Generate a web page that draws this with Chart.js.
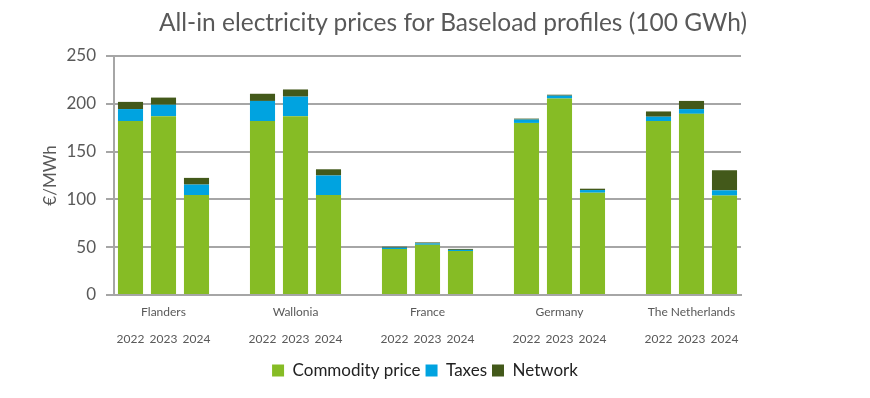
<!DOCTYPE html>
<html>
<head>
<meta charset="utf-8">
<script src="https://cdn.jsdelivr.net/npm/chart.js@4.4.1/dist/chart.umd.min.js"></script>
<style>
  html, body { margin: 0; padding: 0; background: #ffffff; }
  #wrap { width: 870px; height: 398px; position: relative; }
  #title {
    position: absolute; left: 0; top: 7px; width: 906px;
    text-align: center; font-family: Lato, sans-serif; font-size: 24.5px;
    color: #595959; white-space: nowrap; pointer-events: none;
  }
</style>
</head>
<body>
<div id="wrap">
  <div id="title">All-in electricity prices for Baseload profiles (100 GWh)</div>
  <canvas id="priceChart"></canvas>
</div>
<script>
// données (€/MWh)
const countries = ['Flanders', 'Wallonia', 'France', 'Germany', 'The Netherlands'];
const years = ['2022', '2023', '2024'];
const commodity = [182, 187, 104.5, 182, 187, 104.5, 48, 52.5, 46, 180, 205.5, 107, 182, 189.5, 104];
const taxes = [12.5, 12, 11, 21, 20.5, 20.5, 1.5, 1.5, 1.2, 3.5, 3, 2.8, 4.5, 5, 5.5];
const network = [7.5, 7.5, 7, 7.5, 7.5, 6.5, 1, 1, 1, 1, 1, 1.4, 5.5, 8.5, 21];
const yTicks = [0, 50, 100, 150, 200, 250];

const GREEN = '#86bc25';
const BLUE = '#00a3e0';
const DARK = '#43591a';
const TEXT = '#595959';

// une case vide entre chaque pays
const labels = [];
const slotIndex = [];
countries.forEach((c, gi) => {
  years.forEach((y, yi) => {
    labels.push([yi === 1 ? c : '', y]);
    slotIndex.push(gi * 3 + yi);
  });
  if (gi < countries.length - 1) {
    labels.push('');
    slotIndex.push(null);
  }
});
const spread = arr => slotIndex.map(i => i === null ? null : arr[i]);

const PAD_RIGHT = 20;

const ctx = document.getElementById('priceChart').getContext('2d');
new Chart(ctx, {
  type: 'bar',
  data: {
    labels: labels,
    datasets: [
      { label: 'Commodity price', data: spread(commodity), backgroundColor: GREEN },
      { label: 'Taxes', data: spread(taxes), backgroundColor: BLUE },
      { label: 'Network', data: spread(network), backgroundColor: DARK }
    ]
  },
  options: {
    responsive: true,
    maintainAspectRatio: false,
    animation: false,
    layout: { padding: { left: 0, right: PAD_RIGHT, top: 56, bottom: 9 } },
    datasets: { bar: { barPercentage: 0.76, categoryPercentage: 1.0 } },
    scales: {
      x: {
        stacked: true,
        grid: { display: false, drawTicks: false },
        border: { display: true, color: '#a6a6a6', width: 2 },
        ticks: {
          autoSkip: false,
          maxRotation: 0,
          minRotation: 0,
          padding: 4,
          color: TEXT,
          font: { family: 'Lato', size: 12, lineHeight: 2.25 }
        }
      },
      y: {
        stacked: true,
        min: 0,
        max: 250,
        afterFit: scale => { scale.width = 114; },
        afterBuildTicks: scale => { scale.ticks = yTicks.map(v => ({ value: v })); },
        grid: { color: '#a6a6a6', lineWidth: 2, tickLength: 8 },
        border: { display: true, color: '#a6a6a6', width: 2 },
        title: {
          display: true,
          text: '€/MWh',
          color: TEXT,
          font: { family: 'Lato', size: 17 },
          padding: { top: 40, bottom: 0 }
        },
        ticks: {
          color: TEXT,
          padding: 10,
          font: { family: 'Lato', size: 17 }
        }
      },
      // axe fantôme à droite pour réserver la marge
      yr: {
        position: 'right',
        min: 0,
        max: 250,
        afterFit: scale => { scale.width = 870 - PAD_RIGHT - 741; },
        grid: { display: false, drawTicks: false },
        border: { display: false },
        ticks: { display: false }
      }
    },
    plugins: {
      title: { display: false },
      legend: {
        position: 'bottom',
        labels: {
          color: '#222222',
          boxWidth: 12,
          boxHeight: 12,
          padding: 5,
          font: { family: 'Lato', size: 17 }
        }
      },
      tooltip: { enabled: false }
    }
  }
});
</script>
</body>
</html>
